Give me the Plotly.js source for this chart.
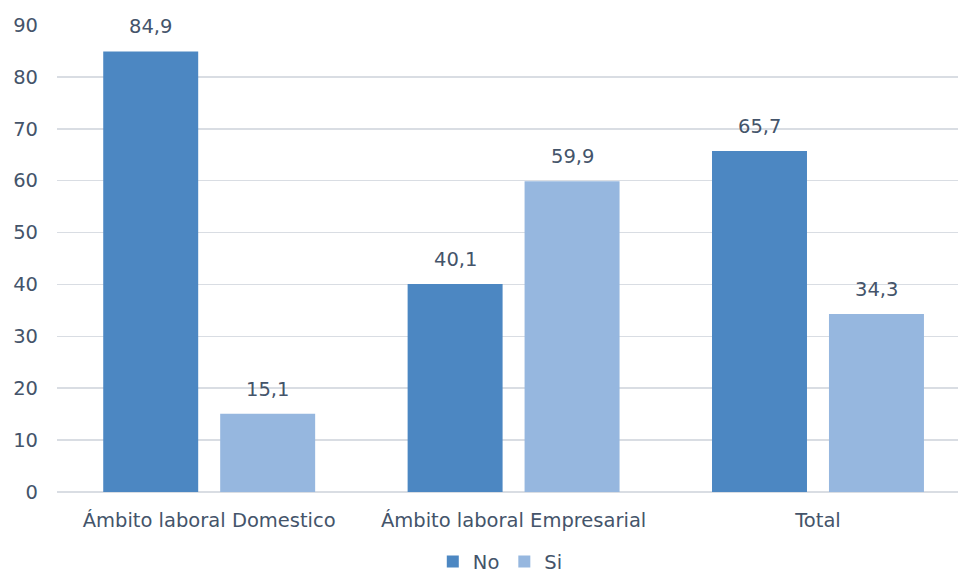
<!DOCTYPE html>
<html>
<head>
<meta charset="utf-8">
<script src="https://cdn.plot.ly/plotly-3.0.1.min.js"></script>
<style>html,body{margin:0;padding:0;background:#fff;}#chart{width:958px;height:579px;}</style>
</head>
<body>
<div id="chart"></div>
<script>
const categories = ["Ámbito laboral Domestico", "Ámbito laboral Empresarial", "Total"];
const seriesNames = ["No", "Si"];
const valuesNo = [84.9, 40.1, 65.7];
const valuesSi = [15.1, 59.9, 34.3];
const yTicks = [0, 10, 20, 30, 40, 50, 60, 70, 80, 90];

const txtColor = "#44546a";
const fontFam = "'DejaVu Sans', sans-serif";
const fs = 19.5;

const traces = [
  {
    type: "bar", name: seriesNames[0], x: categories, y: valuesNo,
    marker: {color: "#4c87c2"}, hoverinfo: "skip"
  },
  {
    type: "bar", name: seriesNames[1], x: categories, y: valuesSi,
    marker: {color: "#96b7df"}, hoverinfo: "skip"
  }
];

function labels(vals, shift) {
  return vals.map((v, i) => ({
    x: categories[i], y: v, xref: "x", yref: "y",
    text: v.toFixed(1).replace(".", ","), showarrow: false,
    yanchor: "bottom", xanchor: "center", xshift: shift, yshift: 11,
    font: {size: fs, color: txtColor, family: fontFam}
  }));
}

const layout = {
  width: 958, height: 579,
  margin: {l: 57, r: 0, t: 25, b: 87, autoexpand: false},
  paper_bgcolor: "#ffffff", plot_bgcolor: "#ffffff",
  separators: ",.",
  font: {family: fontFam, size: fs, color: txtColor},
  barmode: "group",
  bargap: 0.2315,
  bargroupgap: 0.188,
  showlegend: true,
  legend: {
    orientation: "h", x: 0.492, xanchor: "center", y: -0.108, yanchor: "top",
    font: {size: fs, color: txtColor}, itemwidth: 30, traceorder: "normal"
  },
  annotations: labels(valuesNo, -58.5).concat(labels(valuesSi, 58.5)),
  xaxis: {
    type: "category", range: [-0.5, 2.46], automargin: false,
    showgrid: false, showline: false, zeroline: false, ticks: "",
    ticklabelstandoff: 14,
    tickfont: {size: fs, color: txtColor}
  },
  yaxis: {
    range: [0, 90], tickvals: yTicks, ticktext: yTicks.map(String), automargin: false,
    showgrid: true, gridcolor: "#d9dde3", gridwidth: 1.5,
    zeroline: true, zerolinecolor: "#d9dde3", zerolinewidth: 1.5,
    showline: false, ticks: "",
    ticklabelstandoff: 18,
    tickfont: {size: fs, color: txtColor}
  }
};

Plotly.newPlot("chart", traces, layout, {displayModeBar: false, staticPlot: true});
</script>
</body>
</html>
